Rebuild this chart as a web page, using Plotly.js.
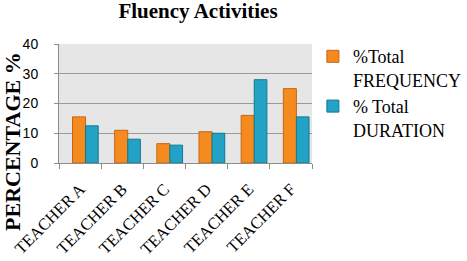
<!DOCTYPE html>
<html><head><meta charset="utf-8">
<script src="https://cdn.plot.ly/plotly-3.0.1.min.js"></script>
<style>html,body{margin:0;padding:0;background:#fff;}#c{width:467px;height:261px;}</style>
</head><body><div id="c"></div>
<script>
var categories = ["TEACHER A","TEACHER B","TEACHER C","TEACHER D","TEACHER E","TEACHER F"];
var frequency = [15.5, 11, 6.5, 10.5, 16, 25];
var duration = [12.5, 8, 6, 10, 28, 15.5];
var seriesNames = ["%Total<br>FREQUENCY", "% Total<br>DURATION"];
var yTicks = [0, 10, 20, 30, 40];

var data = [
  {type:"bar", x:categories, y:frequency, name:seriesNames[0], offset:-0.18, width:0.31,
   marker:{color:"#F58A1F", line:{color:"#C46610", width:1}}},
  {type:"bar", x:categories, y:duration, name:seriesNames[1], offset:0.13, width:0.3,
   marker:{color:"#22A3C6", line:{color:"#137894", width:1}}}
];
var layout = {
  width:467, height:261,
  margin:{l:59, r:155, t:44, b:98, pad:0, autoexpand:false},
  font:{family:"Liberation Serif", color:"#000"},
  paper_bgcolor:"#ffffff", plot_bgcolor:"#e6e6e6",
  barmode:"overlay",
  title:{text:"<b>Fluency Activities</b>", xref:"container", x:0.424, xanchor:"center",
         yref:"container", y:0.958, yanchor:"middle",
         font:{family:"Liberation Serif", size:21, color:"#000"}},
  xaxis:{tickangle:-45, tickfont:{family:"Liberation Serif", size:16.5, color:"#000"}, automargin:false,
         showline:true, linecolor:"#8c8c8c", linewidth:1, ticks:"outside", ticklen:5, tickcolor:"#8c8c8c",
         tickson:"boundaries", showgrid:false, ticklabelstandoff:9},
  yaxis:{range:[0,40], tickvals:yTicks, tickfont:{family:"Liberation Sans", size:14, color:"#000"}, automargin:false,
         showgrid:true, gridcolor:"#9a9a9a", gridwidth:1, showline:true, linecolor:"#8c8c8c",
         ticks:"outside", ticklen:4, tickcolor:"#8c8c8c", zeroline:false, ticklabelstandoff:13},
  annotations:[{text:"<b>PERCENTAGE %</b>", textangle:-90, xref:"paper", yref:"paper",
                x:-0.182, y:0.185, xanchor:"center", yanchor:"middle", showarrow:false,
                font:{family:"Liberation Serif", size:22, color:"#000"}}],
  legend:{xref:"container", yref:"container", x:0.67, xanchor:"left", y:0.854, yanchor:"top",
          tracegroupgap:20, valign:"top", itemwidth:30,
          font:{family:"Liberation Serif", size:18, color:"#000"}},
  showlegend:true
};
Plotly.newPlot("c", data, layout, {staticPlot:true, displayModeBar:false});
</script></body></html>
